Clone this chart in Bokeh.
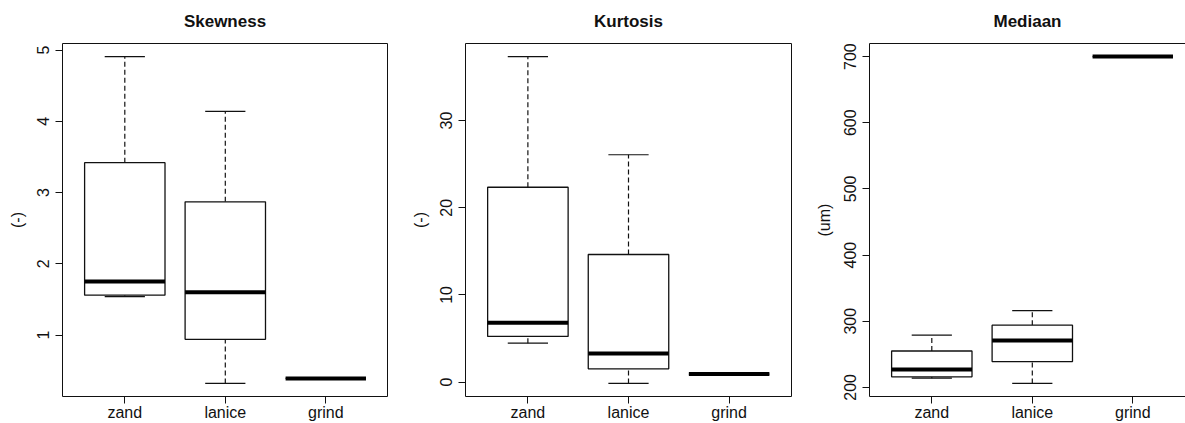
from bokeh.plotting import figure
from bokeh.models import Range1d, FixedTicker, LinearAxis, ColumnDataSource
from bokeh.layouts import row
from bokeh.embed import file_html
from bokeh.resources import INLINE

categories = ["zand", "lanice", "grind"]

skew_low = [1.54, 0.32, 0.39]
skew_q1 = [1.56, 0.94, 0.39]
skew_med = [1.75, 1.60, 0.39]
skew_q3 = [3.42, 2.87, 0.39]
skew_high = [4.91, 4.14, 0.39]
skew_ticks = [1, 2, 3, 4, 5]

kurt_low = [4.47, -0.15, 0.92]
kurt_q1 = [5.24, 1.53, 0.92]
kurt_med = [6.81, 3.27, 0.92]
kurt_q3 = [22.35, 14.64, 0.92]
kurt_high = [37.34, 26.08, 0.92]
kurt_ticks = [0, 10, 20, 30]

med_low = [214, 206, 700]
med_q1 = [216, 239, 700]
med_med = [227, 271, 700]
med_q3 = [255, 294, 700]
med_high = [279, 316, 700]
med_ticks = [200, 300, 400, 500, 600, 700]

FONT = "Liberation Sans"
H = 423
INK = "#111111"


def empty_axis():
    return LinearAxis(ticker=FixedTicker(ticks=[]), major_tick_out=0, major_tick_in=0,
                      minor_tick_out=0, minor_tick_in=0, major_label_text_font_size="0px",
                      major_label_standoff=0, axis_line_color=INK, axis_line_width=1)


def panel(title, ylabel, low, q1, med, q3, high, yticks, width, mbl, mbr, right_border=True):
    n = len(categories)
    xs = [i + 1 for i in range(n)]
    ymin = min(low)
    ymax = max(high)
    pad = 0.04 * (ymax - ymin)
    frame_w = width - mbl - mbr
    x0 = 0.5 - 0.04 * n
    full = n + 0.08 * n
    x1 = x0 + full * min(1.0, frame_w / 325.6)
    p = figure(width=width, height=H, x_range=Range1d(x0, x1),
               y_range=Range1d(ymin - pad, ymax + pad),
               output_backend="svg", toolbar_location=None, title=title,
               min_border_left=mbl, min_border_right=mbr, min_border_top=43,
               min_border_bottom=26, x_axis_type=None, y_axis_type=None)
    p.outline_line_color = None
    p.background_fill_color = "white"
    p.border_fill_color = "white"
    p.title.text_font = FONT
    p.title.text_font_size = "17px"
    p.title.text_font_style = "bold"
    p.title.text_color = INK
    p.title.align = "center"
    p.title.vertical_align = "top"
    p.title.standoff = 22

    xa = LinearAxis(ticker=FixedTicker(ticks=xs),
                    major_label_overrides={x: c for x, c in zip(xs, categories)})
    ya = LinearAxis(ticker=FixedTicker(ticks=yticks), axis_label=ylabel)
    for ax in (xa, ya):
        ax.major_tick_out = 7
        ax.major_tick_in = 0
        ax.minor_tick_out = 0
        ax.minor_tick_in = 0
        ax.axis_line_color = INK
        ax.major_tick_line_color = INK
        ax.major_label_text_font = FONT
        ax.major_label_text_font_size = "16px"
        ax.major_label_text_color = INK
    xa.major_label_standoff = 0
    ya.major_label_standoff = 6
    ya.major_label_orientation = "vertical"
    ya.axis_label_text_font = FONT
    ya.axis_label_text_font_size = "16px"
    ya.axis_label_text_font_style = "normal"
    ya.axis_label_text_color = INK
    ya.axis_label_standoff = 9
    p.add_layout(xa, "below")
    p.add_layout(ya, "left")
    p.add_layout(empty_axis(), "above")
    if right_border:
        p.add_layout(empty_axis(), "right")

    src = ColumnDataSource(dict(
        x=xs, low=low, q1=q1, med=med, q3=q3, high=high,
        bl=[x - 0.4 for x in xs], br=[x + 0.4 for x in xs],
        cl=[x - 0.2 for x in xs], cr=[x + 0.2 for x in xs]))

    p.segment(x0="x", y0="q3", x1="x", y1="high", source=src, line_color=INK,
              line_width=1.2, line_dash="5 3")
    p.segment(x0="x", y0="low", x1="x", y1="q1", source=src, line_color=INK,
              line_width=1.2, line_dash="5 3")
    p.segment(x0="cl", y0="high", x1="cr", y1="high", source=src, line_color=INK, line_width=1.2)
    p.segment(x0="cl", y0="low", x1="cr", y1="low", source=src, line_color=INK, line_width=1.2)
    p.quad(left="bl", right="br", bottom="q1", top="q3", source=src,
           fill_color="white", line_color=INK, line_width=1.3)
    p.segment(x0="bl", y0="med", x1="br", y1="med", source=src, line_color="black",
              line_width=4, line_cap="butt")
    p.xgrid.visible = False
    p.ygrid.visible = False
    return p


p1 = panel("Skewness", "(-)", skew_low, skew_q1, skew_med, skew_q3, skew_high, skew_ticks,
           400, 62, 13)
p2 = panel("Kurtosis", "(-)", kurt_low, kurt_q1, kurt_med, kurt_q3, kurt_high, kurt_ticks,
           400, 65, 9)
p3 = panel("Mediaan", "(um)", med_low, med_q1, med_med, med_q3, med_high, med_ticks,
           385, 69, 0, right_border=False)

layout = row(p1, p2, p3)
open("out.html", "w").write(file_html(layout, INLINE))
